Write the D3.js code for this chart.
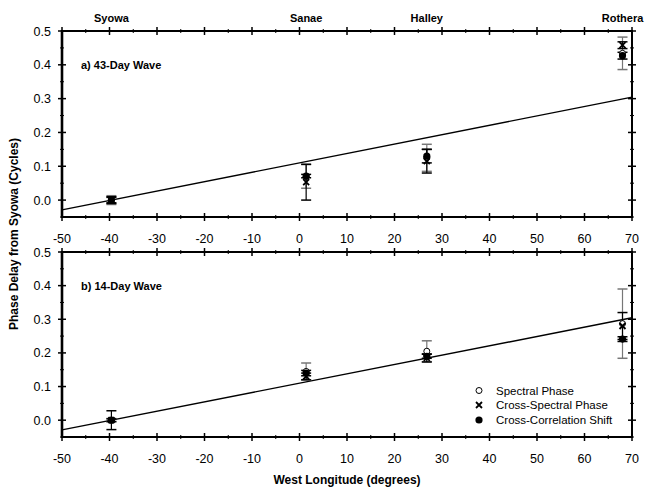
<!DOCTYPE html>
<html>
<head>
<meta charset="utf-8">
<script src="https://cdn.jsdelivr.net/npm/d3@7"></script>
<style>
  body { margin: 0; background: #fff; }
  text { font-family: "Liberation Sans", Arial, sans-serif; }
</style>
</head>
<body>
<div id="chart"></div>
<script>
const W = 645, H = 489;
const margin = { left: 62, right: 13 };

// stations (west longitude, degrees)
const stations = ["Syowa", "Sanae", "Halley", "Rothera"];
const stationLon = [-39.6, 1.4, 26.8, 68.0];

// fitted line: one cycle per 360 degrees, zero at Syowa
const fitLon = [-50, 70];
const fitPhase = [(-50 + 39.6) / 360, (70 + 39.6) / 360];

const xTicks = [-50, -40, -30, -20, -10, 0, 10, 20, 30, 40, 50, 60, 70];
const yTicks = [0.0, 0.1, 0.2, 0.3, 0.4, 0.5];

// 43-day wave
const a_spec     = [0.000, 0.070, 0.125, 0.434];
const a_specErr  = [0.013, 0.035, 0.040, 0.048];
const a_cross    = [0.000, 0.053, 0.115, 0.458];
const a_crossErr = [0.010, 0.053, 0.035, 0.010];
const a_corr     = [0.000, 0.071, 0.130, 0.427];
const a_corrErr  = [0.008, 0.005, 0.020, 0.010];

// 14-day wave
const b_spec     = [0.000, 0.145, 0.205, 0.287];
const b_specErr  = [0.005, 0.025, 0.031, 0.103];
const b_cross    = [0.000, 0.130, 0.185, 0.280];
const b_crossErr = [0.028, 0.010, 0.012, 0.040];
const b_corr     = [0.000, 0.140, 0.190, 0.241];
const b_corrErr  = [0.004, 0.008, 0.006, 0.007];

const legendLabels = ["Spectral Phase", "Cross-Spectral Phase", "Cross-Correlation Shift"];

const svg = d3.select("#chart").append("svg")
  .attr("width", W).attr("height", H);

const x = d3.scaleLinear().domain([-50, 70]).range([margin.left, W - margin.right]);

function panel(top, bottom, title, spec, specErr, cross, crossErr, corr, corrErr, showStations, showLegend) {
  const y = d3.scaleLinear().domain([-0.05, 0.5]).range([bottom, top]);
  const g = svg.append("g");

  // fit line
  g.append("path")
    .datum(fitLon.map((d, i) => [d, fitPhase[i]]))
    .attr("fill", "none").attr("stroke", "#000").attr("stroke-width", 1.4)
    .attr("d", d3.line().x(d => x(d[0])).y(d => y(d[1])));

  // frame
  g.append("rect")
    .attr("x", x(-50)).attr("y", top)
    .attr("width", x(70) - x(-50)).attr("height", bottom - top)
    .attr("fill", "none").attr("stroke", "#000").attr("stroke-width", 2);

  // x ticks top & bottom
  const minorX = d3.range(-45, 70, 10);
  [top, bottom].forEach(yy => {
    g.selectAll(null).data(xTicks).enter().append("line")
      .attr("x1", d => x(d)).attr("x2", d => x(d))
      .attr("y1", yy - 4).attr("y2", yy + 4)
      .attr("stroke", "#000").attr("stroke-width", 1.5);
    g.selectAll(null).data(minorX).enter().append("line")
      .attr("x1", d => x(d)).attr("x2", d => x(d))
      .attr("y1", yy - 2).attr("y2", yy + 2)
      .attr("stroke", "#000").attr("stroke-width", 1);
  });
  // y ticks left & right
  const minorY = [-0.05, 0.05, 0.15, 0.25, 0.35, 0.45];
  [x(-50), x(70)].forEach(xx => {
    g.selectAll(null).data(yTicks).enter().append("line")
      .attr("y1", d => y(d)).attr("y2", d => y(d))
      .attr("x1", xx - 4).attr("x2", xx + 4)
      .attr("stroke", "#000").attr("stroke-width", 1.5);
    g.selectAll(null).data(minorY).enter().append("line")
      .attr("y1", d => y(d)).attr("y2", d => y(d))
      .attr("x1", xx - 2).attr("x2", xx + 2)
      .attr("stroke", "#000").attr("stroke-width", 1);
  });

  // left axis thicker
  g.append("line").attr("x1", x(-50)).attr("x2", x(-50))
    .attr("y1", top - 1).attr("y2", bottom + 1)
    .attr("stroke", "#000").attr("stroke-width", 2.6);

  // tick labels
  g.selectAll(null).data(yTicks).enter().append("text")
    .attr("x", x(-50) - 11).attr("y", d => y(d) + 4.5)
    .attr("text-anchor", "end").attr("font-size", 12.5)
    .text(d => d.toFixed(1));
  g.selectAll(null).data(xTicks).enter().append("text")
    .attr("x", d => x(d)).attr("y", bottom + 26)
    .attr("text-anchor", "middle").attr("font-size", 12.5)
    .text(d => d);

  g.append("text").attr("x", 81).attr("y", top + 38)
    .attr("font-size", 11).attr("font-weight", "bold").text(title);

  if (showStations) {
    svg.selectAll(null).data(stations).enter().append("text")
      .attr("x", (d, i) => x(stationLon[i])).attr("y", 22)
      .attr("text-anchor", "middle").attr("font-size", 11).attr("font-weight", "bold")
      .text(d => d);
  }

  // error bars
  function errBars(vals, errs, color, cap) {
    vals.forEach((v, i) => {
      const cx = x(stationLon[i]);
      const y1 = y(v - errs[i]), y2 = y(v + errs[i]);
      g.append("line").attr("x1", cx).attr("x2", cx).attr("y1", y1).attr("y2", y2)
        .attr("stroke", color).attr("stroke-width", 1.2);
      [y1, y2].forEach(yy => g.append("line")
        .attr("x1", cx - cap).attr("x2", cx + cap).attr("y1", yy).attr("y2", yy)
        .attr("stroke", color).attr("stroke-width", 1.5));
    });
  }
  errBars(spec, specErr, "#777", 5);
  errBars(cross, crossErr, "#000", 5);
  errBars(corr, corrErr, "#000", 5);

  // markers
  g.selectAll(null).data(spec).enter().append("circle")
    .attr("cx", (d, i) => x(stationLon[i])).attr("cy", d => y(d)).attr("r", 3)
    .attr("fill", "#fff").attr("stroke", "#000").attr("stroke-width", 1);
  g.selectAll(null).data(cross).enter().append("path")
    .attr("transform", (d, i) => `translate(${x(stationLon[i])},${y(d)})`)
    .attr("d", "M-3,-3L3,3M-3,3L3,-3")
    .attr("stroke", "#000").attr("stroke-width", 1.8);
  g.selectAll(null).data(corr).enter().append("circle")
    .attr("cx", (d, i) => x(stationLon[i])).attr("cy", d => y(d)).attr("r", 3.6)
    .attr("fill", "#000");

  if (showLegend) {
    const lx = 479, ly = [390.5, 405, 420];
    g.append("circle").attr("cx", lx).attr("cy", ly[0]).attr("r", 3)
      .attr("fill", "#fff").attr("stroke", "#000").attr("stroke-width", 1);
    g.append("path").attr("transform", `translate(${lx},${ly[1]})`)
      .attr("d", "M-3,-3L3,3M-3,3L3,-3").attr("stroke", "#000").attr("stroke-width", 1.8);
    g.append("circle").attr("cx", lx).attr("cy", ly[2]).attr("r", 3.6).attr("fill", "#000");
    g.selectAll(null).data(legendLabels).enter().append("text")
      .attr("x", 496).attr("y", (d, i) => ly[i] + 4)
      .attr("font-size", 11.5).text(d => d);
  }
}

panel(31, 217, "a) 43-Day Wave", a_spec, a_specErr, a_cross, a_crossErr, a_corr, a_corrErr, true, false);
panel(252, 437, "b) 14-Day Wave", b_spec, b_specErr, b_cross, b_crossErr, b_corr, b_corrErr, false, true);

svg.append("text")
  .attr("transform", `translate(18,${(31 + 437) / 2}) rotate(-90)`)
  .attr("text-anchor", "middle").attr("font-size", 12).attr("font-weight", "bold")
  .text("Phase Delay from Syowa (Cycles)");
svg.append("text")
  .attr("x", (x(-50) + x(70)) / 2).attr("y", 484)
  .attr("text-anchor", "middle").attr("font-size", 12).attr("font-weight", "bold")
  .text("West Longitude (degrees)");
</script>
</body>
</html>
